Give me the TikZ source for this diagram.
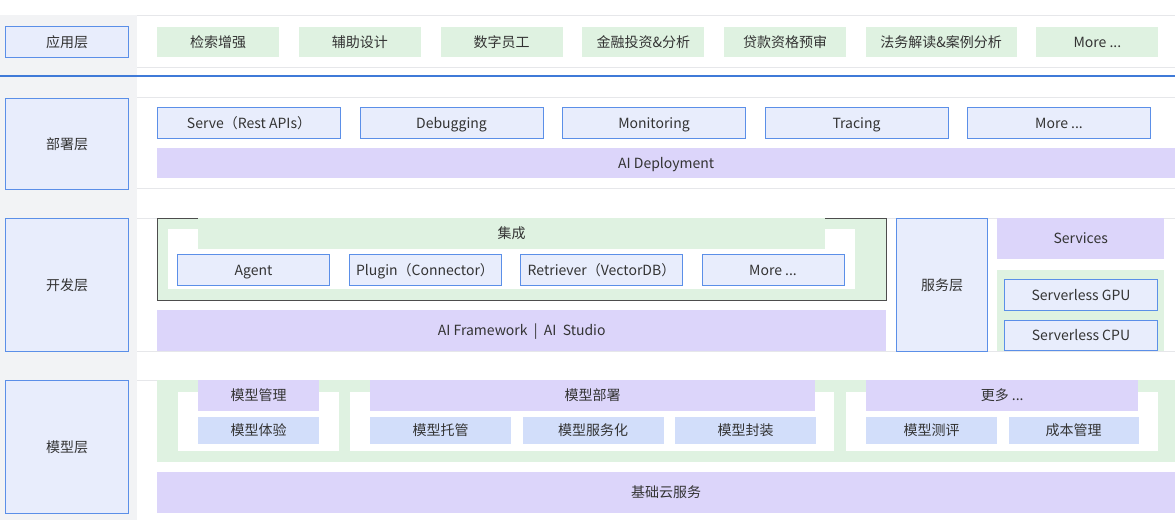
\documentclass[tikz,border=0pt]{standalone}
\usepackage{fontspec}
\setmainfont{Noto Sans CJK SC}
\usepackage{xcolor}
\usepackage{tikz}
\usetikzlibrary{positioning}

\definecolor{colbg}{HTML}{F2F3F5}
\definecolor{sepgray}{HTML}{E6E7EA}
\definecolor{edgeblue}{HTML}{5B8FE8}
\definecolor{rowblue}{HTML}{3F7AD8}
\definecolor{boxblue}{HTML}{E8EDFC}
\definecolor{softgreen}{HTML}{DFF2E1}
\definecolor{lavender}{HTML}{DCD5FA}
\definecolor{modblue}{HTML}{D2DEFA}
\definecolor{darkedge}{HTML}{4D4D4D}
\definecolor{txt}{HTML}{333333}

\begin{document}
\begin{tikzpicture}[x=1pt,y=-1pt,
  node distance=19.3pt,
  every node/.style={font=\fontsize{14}{16}\selectfont,text=txt},
  base/.style={inner sep=0pt,anchor=north west,text height=12pt,text depth=2pt},
  layer/.style={base,draw=edgeblue,line width=1pt,fill=boxblue,minimum width=123pt},
  appbox/.style={base,fill=softgreen,minimum width=122pt,minimum height=30pt},
  depbox/.style={base,draw=edgeblue,line width=1pt,fill=boxblue,minimum width=183pt,minimum height=31pt},
  bar/.style={base,fill=lavender},
  modbox/.style={base,fill=modblue,minimum height=27pt},
  sep/.style={draw=sepgray,line width=1pt}]
  \useasboundingbox (0,0) rectangle (1175,520);
  % page background
  \fill[white] (0,0) rectangle (1175,520);
  \fill[colbg] (0,15) rectangle (137,520);
  \foreach \y in {15,67,97,188,218,351,380}
    \draw[sep] (137,\y) -- (1175,\y);
  \draw[rowblue,line width=1.5pt] (0,76) -- (1175,76);

  % layer labels
  \node[layer,minimum height=31pt] (app) at (5,26) {应用层};
  \node[layer,minimum height=91pt] (dep) at (5,98) {部署层};
  \node[layer,minimum height=133pt] (dev) at (5,218) {开发层};
  \node[layer,minimum height=133pt] (mod) at (5,380) {模型层};

  % application layer
  \node[appbox] (rag) at (157,27) {检索增强};
  \node[appbox,right=of rag] (design) {辅助设计};
  \node[appbox,right=of design] (staff) {数字员工};
  \node[appbox,right=of staff] (fin) {金融投资\&分析};
  \node[appbox,right=of fin] (loan) {贷款资格预审};
  \node[appbox,right=of loan,minimum width=151pt] (law) {法务解读\&案例分析};
  \node[appbox,right=of law] (appmore) {More ...};

  % deployment layer
  \node[depbox] (serve) at (157,107) {Serve（Rest APIs）};
  \node[depbox,right=18.5pt of serve] (debug) {Debugging};
  \node[depbox,right=18.5pt of debug] (monitor) {Monitoring};
  \node[depbox,right=18.5pt of monitor] (trace) {Tracing};
  \node[depbox,right=18.5pt of trace] (depmore) {More ...};
  \node[bar,minimum width=1018pt,minimum height=30pt] (aidep) at (157,148) {AI Deployment};

  % development layer
  \node[base,draw=darkedge,line width=1pt,fill=softgreen,minimum width=729pt,minimum height=82pt] (integ) at (157,218) {};
  \fill[white] (168,229) rectangle (855,289);
  \node[base,fill=softgreen,minimum width=627pt,minimum height=31pt] (jicheng) at (198,218) {集成};
  \node[depbox,minimum width=152pt] (agent) at (177,254) {Agent};
  \node[depbox,minimum width=152pt,right=18.5pt of agent] (plugin) {Plugin（Connector）};
  \node[depbox,minimum width=162pt,right=18.5pt of plugin] (retr) {Retriever（VectorDB）};
  \node[depbox,minimum width=142pt,right=18.5pt of retr] (devmore) {More ...};
  \node[bar,minimum width=729pt,minimum height=41pt] (fw) at (157,310) {AI Framework \ | \ AI\ \ Studio};
  \node[layer,minimum width=91pt,minimum height=133pt] (svc) at (896,218) {服务层};
  \node[bar,minimum width=167pt,minimum height=41pt] (services) at (997,218) {Services};
  \fill[softgreen] (997,270) rectangle (1164,351);
  \node[depbox,minimum width=153pt] (gpu) at (1004,279) {Serverless GPU};
  \node[depbox,minimum width=153pt,minimum height=30pt] (cpu) at (1004,320) {Serverless CPU};

  % model layer
  \fill[softgreen] (157,380) rectangle (1175,462);
  \fill[white] (178,392) rectangle (339,451);
  \fill[white] (350,392) rectangle (834,451);
  \fill[white] (846,392) rectangle (1158,451);
  \node[bar,minimum width=121pt,minimum height=31pt] (mgmt) at (198,380) {模型管理};
  \node[bar,minimum width=445pt,minimum height=31pt] (deploy) at (370,380) {模型部署};
  \node[bar,minimum width=272pt,minimum height=31pt] (more) at (866,380) {更多 ...};
  \node[modbox,minimum width=121pt] (try) at (198,417) {模型体验};
  \node[modbox,minimum width=141pt] (host) at (370,417) {模型托管};
  \node[modbox,minimum width=141pt,right=11pt of host] (serving) {模型服务化};
  \node[modbox,minimum width=141pt,right=11pt of serving] (pack) {模型封装};
  \node[modbox,minimum width=131pt] (eval) at (866,417) {模型测评};
  \node[modbox,minimum width=130pt,right=11pt of eval] (cost) {成本管理};
  \node[bar,minimum width=1018pt,minimum height=41pt] (cloud) at (157,472) {基础云服务};
\end{tikzpicture}
\end{document}
